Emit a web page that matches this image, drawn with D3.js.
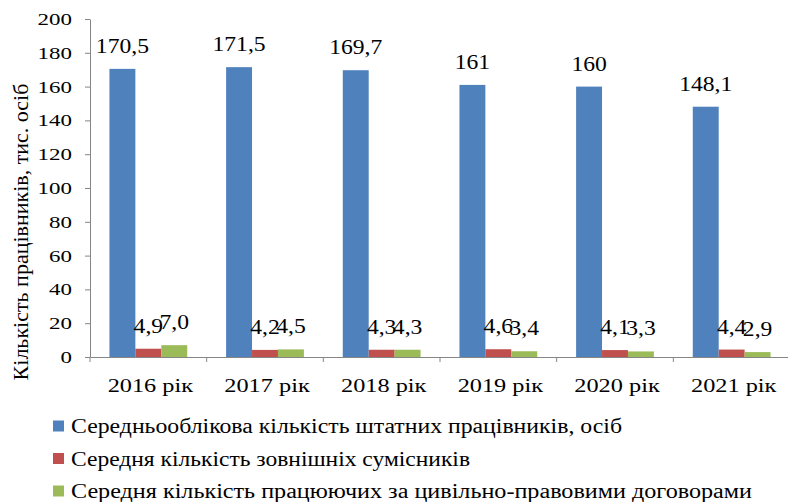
<!DOCTYPE html>
<html>
<head>
<meta charset="utf-8">
<script src="https://cdn.jsdelivr.net/npm/d3@7"></script>
</head>
<body style="margin:0;font-family:'Liberation Serif'">
<div id="chart"></div>
<script>
// Data
const years = ["2016 рік", "2017 рік", "2018 рік", "2019 рік", "2020 рік", "2021 рік"];
const staff = [170.5, 171.5, 169.7, 161, 160, 148.1];
const external = [4.9, 4.2, 4.3, 4.6, 4.1, 4.4];
const contract = [7.0, 4.5, 4.3, 3.4, 3.3, 2.9];
const staffLabels = ["170,5", "171,5", "169,7", "161", "160", "148,1"];
const externalLabels = ["4,9", "4,2", "4,3", "4,6", "4,1", "4,4"];
const contractLabels = ["7,0", "4,5", "4,3", "3,4", "3,3", "2,9"];
const seriesNames = [
    "Середньооблікова кількість штатних працівників, осіб",
    "Середня кількість зовнішніх сумісників",
    "Середня кількість працюючих за  цивільно-правовими договорами"
];
const colors = ["#4F81BD", "#C0504D", "#9BBB59"];
const yTicks = [0, 20, 40, 60, 80, 100, 120, 140, 160, 180, 200];

const width = 788;
const height = 502;
const margin = { top: 19, right: -2, bottom: 145, left: 90 };
const innerW = width - margin.left - margin.right;
const innerH = height - margin.top - margin.bottom;

const svg = d3.select("#chart")
    .append("svg")
    .attr("width", width)
    .attr("height", height)
    .attr("font-family", "Liberation Serif")
    .style("font-family", "'Liberation Serif'");

const g = svg.append("g")
    .attr("transform", `translate(${margin.left},${margin.top})`);

const xScale = d3.scaleBand()
    .domain(years)
    .range([0, innerW]);

// bars: gap width 150% like Excel
const barW = xScale.bandwidth() / 4.5;
const xSub = d3.scaleBand()
    .domain([0, 1, 2])
    .range([barW * 0.75, barW * 3.75]);

const yScale = d3.scaleLinear()
    .domain([0, 200])
    .range([innerH, 0]);

const series = [
    { values: staff, labels: staffLabels },
    { values: external, labels: externalLabels },
    { values: contract, labels: contractLabels }
];

// Bars + data labels
series.forEach((s, si) => {
    g.selectAll(".bar" + si)
        .data(s.values)
        .enter()
        .append("rect")
        .attr("x", (d, i) => xScale(years[i]) + xSub(si))
        .attr("y", d => yScale(d))
        .attr("width", xSub.bandwidth())
        .attr("height", d => innerH - yScale(d))
        .attr("fill", colors[si]);

    // labels are a bit wide in the original, stretch them horizontally
    g.selectAll(".lab" + si)
        .data(s.values)
        .enter()
        .append("text")
        .attr("transform", (d, i) =>
            `translate(${xScale(years[i]) + xSub(si) + xSub.bandwidth() / 2},${yScale(d) - 16}) scale(1.18,1)`)
        .attr("text-anchor", "middle")
        .attr("font-size", 20)
        .attr("fill", "#000")
        .text((d, i) => s.labels[i]);
});

// Y axis
const yAxis = d3.axisLeft(yScale)
    .tickValues(yTicks)
    .tickSize(5)
    .tickSizeOuter(0)
    .tickPadding(0)
    .tickFormat(d3.format("d"));

const yG = g.append("g").call(yAxis).attr("font-family", null);
yG.select(".domain").attr("stroke", "#868686");
yG.selectAll(".tick line").attr("stroke", "#868686");
yG.selectAll("text")
    .attr("x", null)
    .attr("transform", "translate(-18,0) scale(1.35,1)")
    .attr("font-size", 17)
    .attr("fill", "#000");

// X axis
const xAxis = d3.axisBottom(xScale)
    .tickSize(0)
    .tickPadding(0);

const xG = g.append("g")
    .attr("transform", `translate(0,${innerH})`)
    .call(xAxis)
    .attr("font-family", null);
xG.select(".domain").attr("stroke", "#868686");
xG.selectAll("text")
    .attr("y", null)
    .attr("dy", null)
    .attr("transform", "translate(2,35) scale(1.35,1)")
    .attr("font-size", 18)
    .attr("fill", "#000");

// category boundary ticks
g.selectAll(".cat-tick")
    .data(years)
    .enter()
    .append("line")
    .attr("x1", d => xScale(d))
    .attr("x2", d => xScale(d))
    .attr("y1", innerH)
    .attr("y2", innerH + 5)
    .attr("stroke", "#868686");

// Y axis title
svg.append("text")
    .attr("transform", `translate(28,232) rotate(-90)`)
    .attr("text-anchor", "middle")
    .attr("font-size", 22)
    .attr("fill", "#000")
    .text("Кількість працівників, тис. осіб");

// Legend
const legend = svg.append("g")
    .attr("transform", "translate(53,0)");

const legendY = [426, 458.5, 491];
const legendW = [551, 399, 681];
seriesNames.forEach((name, i) => {
    legend.append("rect")
        .attr("x", 0)
        .attr("y", legendY[i] - 5.5)
        .attr("width", 11)
        .attr("height", 11)
        .attr("fill", colors[i]);
    legend.append("text")
        .attr("x", 18)
        .attr("y", legendY[i] + 7)
        .attr("font-size", 20)
        .attr("textLength", legendW[i])
        .attr("lengthAdjust", "spacingAndGlyphs")
        .attr("fill", "#000")
        .text(name);
});
</script>
</body>
</html>
